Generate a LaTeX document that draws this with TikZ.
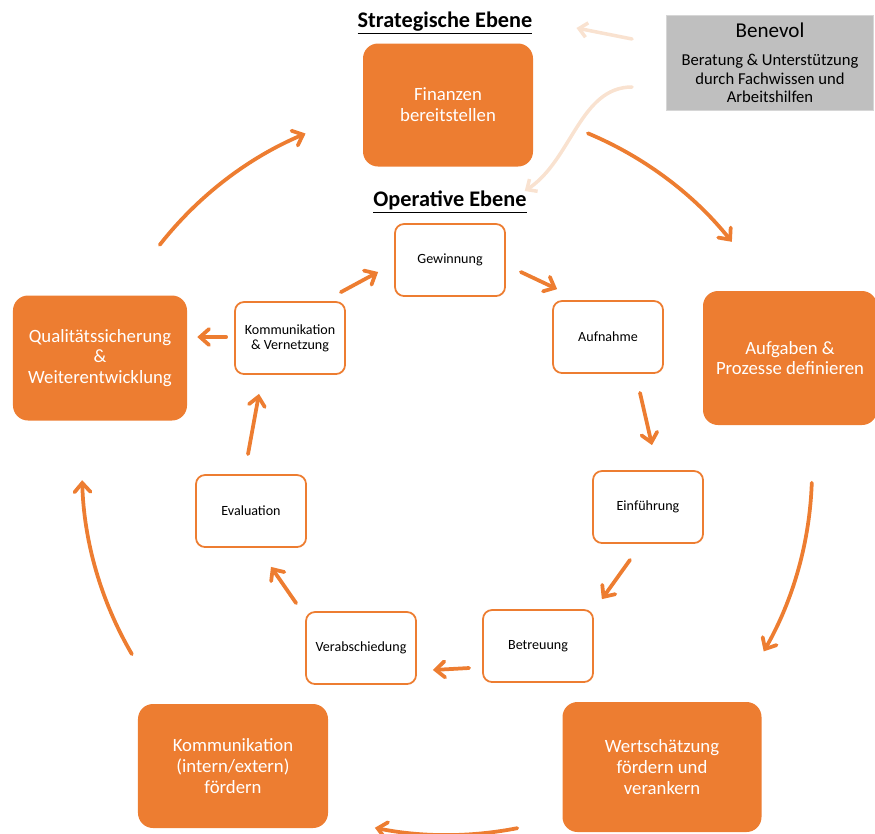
\documentclass[tikz,border=0pt]{standalone}
\usepackage{fontspec}
\setmainfont{Carlito}
\usetikzlibrary{arrows.meta}

\definecolor{orangeacc}{RGB}{237,125,49}
\definecolor{greybox}{RGB}{191,191,191}
\definecolor{greyline}{RGB}{214,214,214}
\definecolor{peach}{RGB}{249,226,208}

\begin{document}
\begin{tikzpicture}[x=0.03cm, y=-0.03cm,
  bigbox/.style={fill=orangeacc, rounded corners=0.45cm, text=white, align=center,
    font=\fontsize{16}{17.8}\selectfont, inner sep=0pt},
  smallbox/.style={draw=orangeacc, line width=1.5pt, rounded corners=0.27cm, fill=white,
    align=center, font=\fontsize{12}{12.8}\selectfont, inner sep=0pt,
    minimum width=3.3cm, minimum height=2.16cm},
  flow/.style={draw=orangeacc, line width=3.2pt, line cap=round,
    -{Straight Barb[length=2.7mm, width=4.8mm, line cap=round]}},
  hint/.style={draw=peach, line width=3pt, line cap=round,
    -{Straight Barb[length=2.4mm, width=4.4mm]}},
  ebene/.style={font=\bfseries\fontsize{19}{22}\selectfont}
]
\useasboundingbox (0,0) rectangle (875,833);

% Ueberschriften
\node[ebene] (strat) at (445,23) {\underline{Strategische Ebene}};
\node[ebene] (oper) at (450,202) {\underline{Operative Ebene}};

% Benevol
\node[fill=greybox, draw=greyline, line width=0.8pt, minimum width=6.21cm, minimum height=2.85cm,
  align=center, font=\fontsize{14.2}{15.8}\selectfont, inner sep=0pt] (bene) at (770,63)
  {{\fontsize{18}{22}\selectfont Benevol}\\[8pt] Beratung \& Unterstützung\\ durch Fachwissen und\\ Arbeitshilfen};

% strategische Ebene
\node[bigbox, minimum width=5.1cm, minimum height=3.69cm] (fin) at (448,105) {Finanzen\\ bereitstellen};
\node[bigbox, minimum width=5.22cm, minimum height=4.02cm] (aufg) at (790,358) {Aufgaben \&\\ Prozesse definieren};
\node[bigbox, minimum width=5.97cm, minimum height=3.9cm] (wert) at (662,767) {Wertschätzung\\ fördern und\\ verankern};
\node[bigbox, minimum width=5.7cm, minimum height=3.72cm] (komx) at (233,766) {Kommunikation\\ (intern/extern)\\ fördern};
\node[bigbox, minimum width=5.22cm, minimum height=3.75cm] (qual) at (100,358) {Qualitätssicherung\\ \&\\ Weiterentwicklung};

% operative Ebene
\node[smallbox] (gew) at (450,260) {Gewinnung};
\node[smallbox] (aufn) at (608,337) {Aufnahme};
\node[smallbox] (einf) at (648,507) {Einführung};
\node[smallbox] (betr) at (538,646) {Betreuung};
\node[smallbox] (verab) at (361,648) {Verabschiedung};
\node[smallbox] (eval) at (251,511) {Evaluation};
\node[smallbox] (komv) at (290,338) {Kommunikation\\ \& Vernetzung};

% grosser Kreis
\coordinate (ctr) at (447,470);
\foreach \s/\e in {-67.3/-38.7, 2/29.8, 78.9/101.4, 149.7/178.4, 218.1/247.2}
  \draw[flow] ([shift={(\s:365)}]ctr) arc[start angle=\s, end angle=\e, radius=365];

% kleiner Kreis
\draw[flow] ([shift={(-5,-9)}]komv.north east) -- ([shift={(-16,12)}]gew.west);
\draw[flow] ([shift={(15,12)}]gew.east) -- ([shift={(5,-11)}]aufn.north west);
\draw[flow] ([shift={(32,19)}]aufn.south) -- ([shift={(4,-25)}]einf.north);
\draw[flow] ([shift={(-18,16)}]einf.south) -- ([shift={(8,-10)}]betr.north east);
\draw[flow] ([shift={(-13,22)}]betr.west) -- ([shift={(16,22)}]verab.east);
\draw[flow] ([shift={(-9,-8)}]verab.north west) -- ([shift={(20,19)}]eval.south);
\draw[flow] ([shift={(-3,-20)}]eval.north) -- ([shift={(-31,19)}]komv.south);
\draw[flow] ([shift={(-8,-1)}]komv.west) -- ([shift={(10,-21)}]qual.east);

% Hinweise von Benevol
\draw[hint] ([shift={(-34,-24)}]bene.west) -- ([shift={(40,5)}]strat.east);
\draw[hint] ([shift={(-34,24)}]bene.west) .. controls +(-52,0) and +(47,-31) .. ([shift={(-6,-11)}]oper.east);

\end{tikzpicture}
\end{document}
